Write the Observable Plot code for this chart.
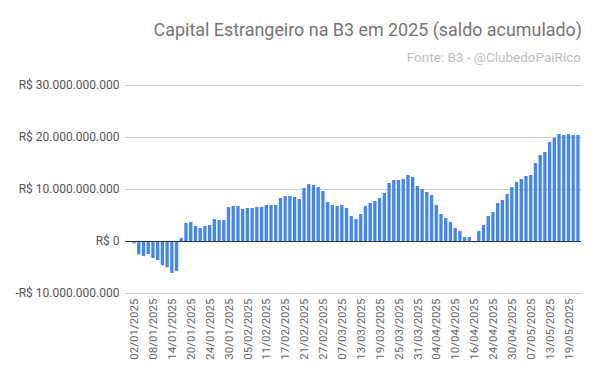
<!DOCTYPE html>
<html><head><meta charset="utf-8">
<script src="https://cdn.jsdelivr.net/npm/d3@7"></script>
<script src="https://cdn.jsdelivr.net/npm/@observablehq/plot@0.6"></script>
<style>
body{margin:0;background:#fff;font-family:Roboto,sans-serif;}
#wrap{width:600px;height:385px;position:relative;overflow:hidden;}
#head{height:70px;text-align:right;padding-right:18px;box-sizing:border-box;}
#title{font-size:17.9px;color:#757575;padding-top:19px;line-height:22px;}
#sub{font-size:13.5px;color:#bdbdbd;margin-top:8px;line-height:16px;padding-right:1px;}
#chart svg{display:block;}
</style></head><body>
<div id="wrap">
  <div id="head">
    <div id="title">Capital Estrangeiro na B3 em 2025 (saldo acumulado)</div>
    <div id="sub">Fonte: B3 - @ClubedoPaiRico</div>
  </div>
  <div id="chart"></div>
</div>
<script>
const dates = [
  "02/01/2025","03/01/2025","06/01/2025","07/01/2025","08/01/2025","09/01/2025","10/01/2025","13/01/2025","14/01/2025","15/01/2025",
  "16/01/2025","17/01/2025","20/01/2025","21/01/2025","22/01/2025","23/01/2025","24/01/2025","27/01/2025","28/01/2025","29/01/2025",
  "30/01/2025","31/01/2025","03/02/2025","04/02/2025","05/02/2025","06/02/2025","07/02/2025","10/02/2025","11/02/2025","12/02/2025",
  "13/02/2025","14/02/2025","17/02/2025","18/02/2025","19/02/2025","20/02/2025","21/02/2025","24/02/2025","25/02/2025","26/02/2025",
  "27/02/2025","28/02/2025","05/03/2025","06/03/2025","07/03/2025","10/03/2025","11/03/2025","12/03/2025","13/03/2025","14/03/2025",
  "17/03/2025","18/03/2025","19/03/2025","20/03/2025","21/03/2025","24/03/2025","25/03/2025","26/03/2025","27/03/2025","28/03/2025",
  "31/03/2025","01/04/2025","02/04/2025","03/04/2025","04/04/2025","07/04/2025","08/04/2025","09/04/2025","10/04/2025","11/04/2025",
  "14/04/2025","15/04/2025","16/04/2025","17/04/2025","22/04/2025","23/04/2025","24/04/2025","25/04/2025","28/04/2025","29/04/2025",
  "30/04/2025","02/05/2025","05/05/2025","06/05/2025","07/05/2025","08/05/2025","09/05/2025","12/05/2025","13/05/2025","14/05/2025",
  "15/05/2025","16/05/2025","19/05/2025","20/05/2025","21/05/2025"
];
// saldo acumulado, em bilhões de R$
const saldo = [
  -0.45,-2.56,-2.90,-2.50,-3.30,-3.65,-4.68,-5.06,-6.15,-5.77,
  0.58,3.46,3.65,2.88,2.50,2.88,3.08,4.23,4.04,4.04,
  6.54,6.73,6.73,6.15,6.35,6.35,6.54,6.54,6.92,6.92,
  6.92,8.27,8.65,8.65,8.46,8.08,10.19,10.96,10.77,10.38,
  9.62,7.50,6.92,6.73,6.92,6.35,4.81,4.23,5.19,6.73,
  7.31,7.69,8.27,9.23,11.15,11.73,11.73,11.92,12.69,12.31,
  10.58,10.00,9.42,8.85,6.92,5.19,4.42,3.65,2.50,1.92,
  0.77,0.77,-0.26,1.92,3.08,4.81,5.58,7.31,7.88,9.04,
  10.38,11.35,11.92,12.50,12.69,15.00,16.54,17.12,19.04,19.81,
  20.58,20.38,20.58,20.38,20.38
];
const yTicks = [-10, 0, 10, 20, 30];
const xTicks = dates.filter((d, i) => i % 4 === 0);

const data = dates.map((d, i) => ({date: d, value: saldo[i]}));
const fmtNum = d3.format(",");
const fmtBRL = v => (v < 0 ? "-" : "") + "R$ " + fmtNum(Math.abs(v) * 1e9).replace(/,/g, ".");

const chart = Plot.plot({
  width: 600,
  height: 315,
  marginTop: 15,
  marginBottom: 92,
  marginLeft: 131,
  marginRight: 19,
  style: {fontFamily: "Roboto, sans-serif", background: "#fff"},
  x: {type: "band", domain: dates, padding: 0.3, label: null},
  y: {domain: [-10, 30], label: null},
  marks: [
    Plot.ruleY(yTicks.filter(d => d !== 0), {stroke: "#cccccc", strokeWidth: 1, insetLeft: -6}),
    Plot.barY(data, {x: "date", y: "value", fill: "#4285F4"}),
    Plot.ruleY([0], {stroke: "#333333", strokeWidth: 1, insetLeft: -6}),
    Plot.axisY(yTicks, {tickSize: 0, tickPadding: 12, tickFormat: fmtBRL, fontSize: 12, fill: "#555555", label: null}),
    Plot.axisX(xTicks, {tickSize: 0, tickPadding: 5, tickRotate: -90, fontSize: 11.5, fill: "#666666", label: null})
  ]
});
document.getElementById("chart").appendChild(chart);
</script>
</body></html>
